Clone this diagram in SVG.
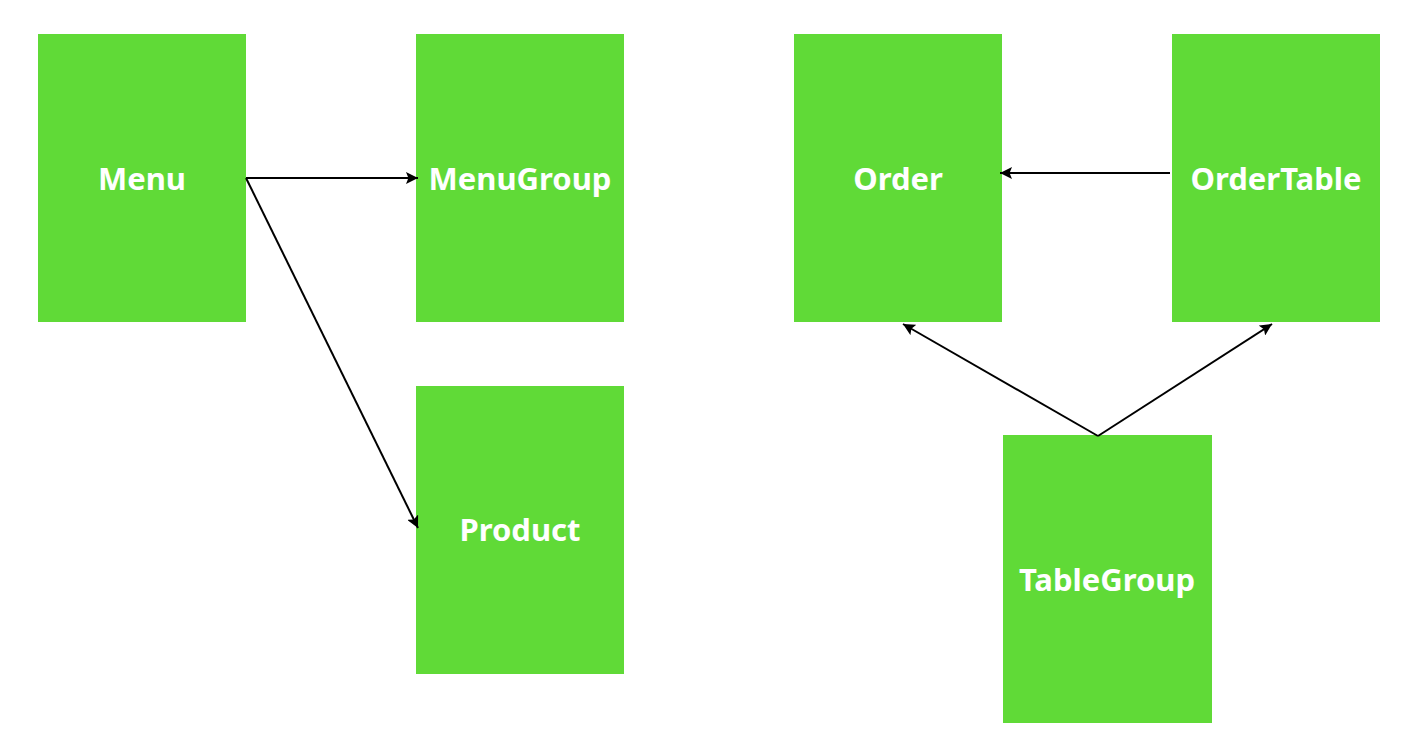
<svg xmlns="http://www.w3.org/2000/svg" width="1426" height="752" viewBox="0 0 1426 752">
<style>
.box{fill:#60da37}
.lbl{fill:#ffffff;font-family:"Noto Sans","Liberation Sans",sans-serif;font-weight:bold;font-size:31px;text-anchor:middle;dominant-baseline:central}
.edge{stroke:#000;stroke-width:2;fill:none;marker-end:url(#ah)}
</style>
<defs>
<marker id="ah" viewBox="0 0 10 10" refX="10" refY="5" markerWidth="6" markerHeight="6" orient="auto" markerUnits="strokeWidth">
<path d="M0,0 L10,5 L0,10 L2,5 z" fill="#000"/>
</marker>
</defs>
<rect width="1426" height="752" fill="#fff"/>
<g id="menu"><rect class="box" x="38" y="34" width="208" height="288"/><text class="lbl" x="142" y="178">Menu</text></g>
<g id="menugroup"><rect class="box" x="416" y="34" width="208" height="288"/><text class="lbl" x="520" y="178">MenuGroup</text></g>
<g id="product"><rect class="box" x="416" y="386" width="208" height="288"/><text class="lbl" x="520" y="529">Product</text></g>
<g id="order"><rect class="box" x="794" y="34" width="208" height="288"/><text class="lbl" x="898" y="178">Order</text></g>
<g id="ordertable"><rect class="box" x="1172" y="34" width="208" height="288"/><text class="lbl" x="1276" y="178">OrderTable</text></g>
<g id="tablegroup"><rect class="box" x="1003" y="435" width="209" height="288"/><text class="lbl" x="1107" y="579">TableGroup</text></g>
<g id="connectors">
<path class="edge" d="M246,178 L418,178"/>
<path class="edge" d="M246,178 L418,528"/>
<path class="edge" d="M1170,173 L1000,173"/>
<path class="edge" d="M1098,436 L903,324"/>
<path class="edge" d="M1098,436 L1272,324"/>
</g>
</svg>
